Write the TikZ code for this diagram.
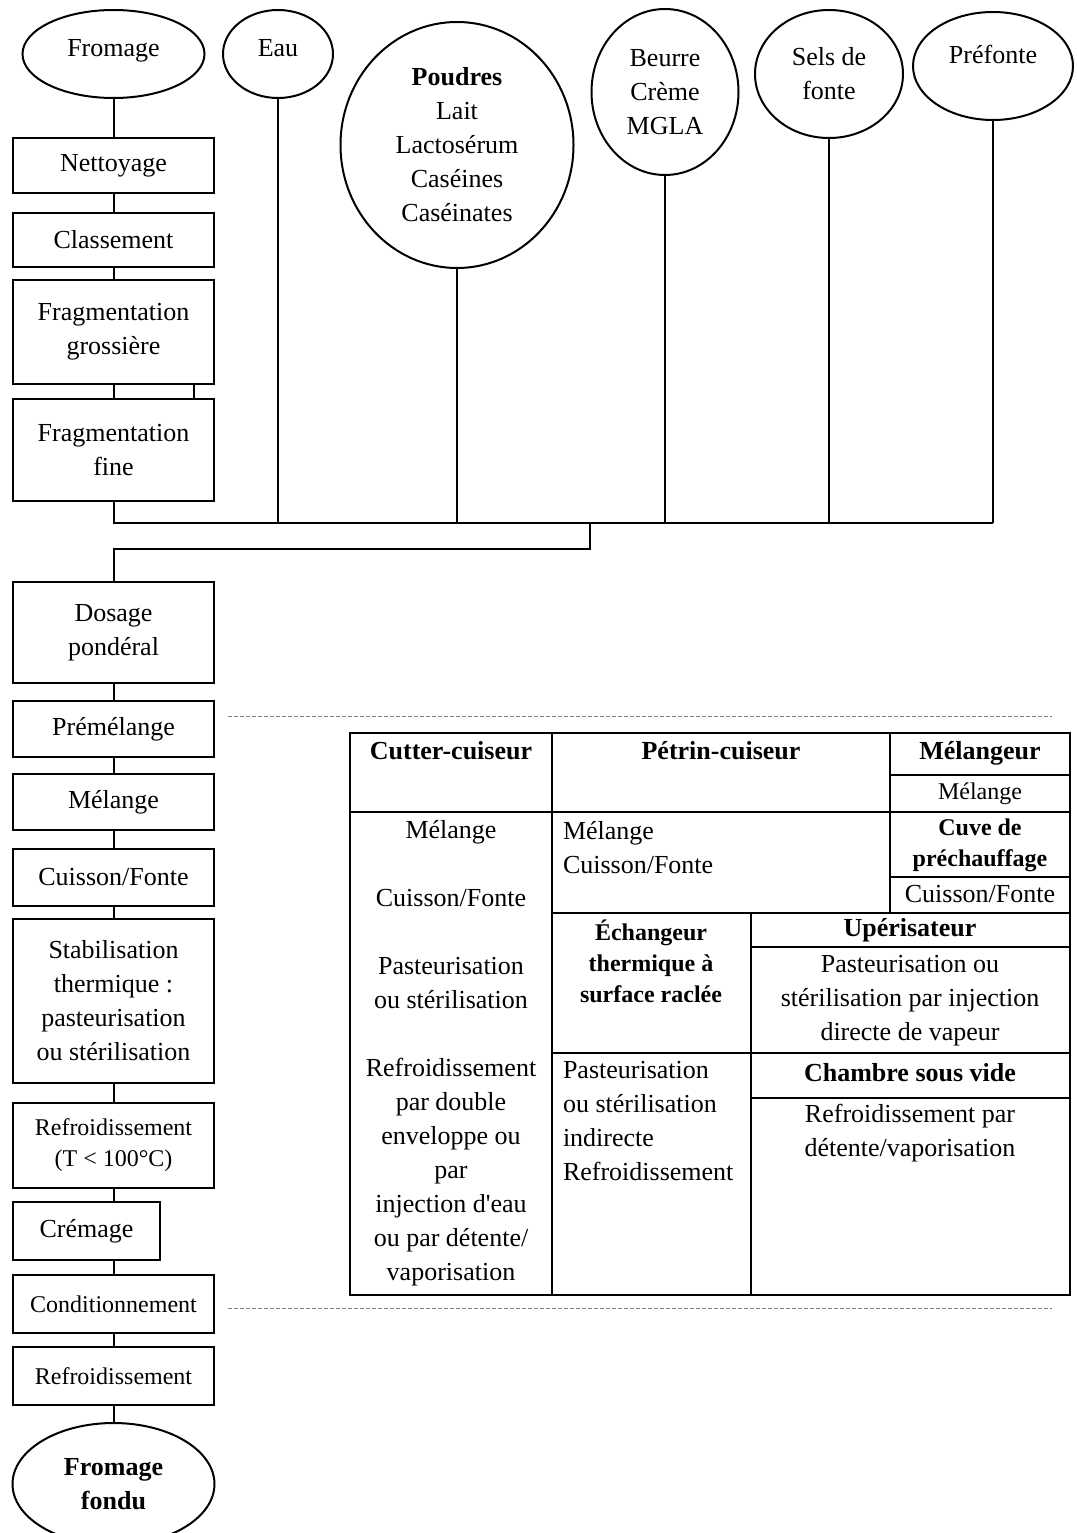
\documentclass[tikz,border=0pt]{standalone}
\usepackage{fontspec}
\setmainfont{Liberation Serif}[Ligatures=TeXOff]
\usetikzlibrary{shapes.geometric}
\begin{document}
\begin{tikzpicture}[x=1pt, y=-1pt, font=\fontsize{26}{34}\selectfont, line width=2pt]
    \tikzstyle{etape}=[draw, rectangle, align=center, minimum width=201pt, inner sep=2pt]
    \tikzstyle{entree}=[draw, ellipse, align=center, inner sep=0pt]
    \tikzstyle{petit}=[font=\fontsize{24}{31}\selectfont]
    \tikzstyle{petitgras}=[font=\fontsize{24}{31}\selectfont\bfseries]
    \tikzstyle{cellule}=[align=center, inner sep=0pt]
    \tikzstyle{pointille}=[gray, line width=0.9pt, dash pattern=on 4pt off 2pt]

    \useasboundingbox (0,0) rectangle (1076,1533);

    % ingredients
    \node[entree, text depth=12pt, minimum width=182, minimum height=88] (e_fromage) at (113.5,54) {Fromage};
    \node[entree, text depth=12pt, minimum width=110, minimum height=88] (e_eau) at (278,54) {Eau};
    \node[entree, minimum width=233, minimum height=246] (e_poudres) at (457,145)
        {\textbf{Poudres}\\Lait\\Lactosérum\\Caséines\\Caséinates};
    \node[entree, minimum width=147, minimum height=166] (e_beurre) at (665,92) {Beurre\\Crème\\MGLA};
    \node[entree, minimum width=148, minimum height=128] (e_sels) at (829,74) {Sels de\\fonte};
    \node[entree, text depth=24pt, minimum width=160, minimum height=108] (e_prefonte) at (993,66) {Préfonte};

    % etapes
    \node[etape, minimum height=55] (b_nettoyage) at (113.5,165.5) {Nettoyage};
    \node[etape, minimum height=54] (b_classement) at (113.5,240) {Classement};
    \node[etape, minimum height=104] (b_frag_gros) at (113.5,332) {Fragmentation\\grossière};
    \node[etape, minimum height=102] (b_frag_fine) at (113.5,450) {Fragmentation\\fine};
    \node[etape, minimum height=101] (b_dosage) at (113.5,632.5) {Dosage\\pondéral};
    \node[etape, minimum height=56] (b_premelange) at (113.5,729) {Prémélange};
    \node[etape, minimum height=56] (b_melange) at (113.5,802) {Mélange};
    \node[etape, minimum height=57] (b_cuisson) at (113.5,877.5) {Cuisson/Fonte};
    \node[etape, minimum height=164] (b_stab) at (113.5,1001)
        {Stabilisation\\thermique :\\pasteurisation\\ou stérilisation};
    \node[etape, petit, minimum height=85] (b_refr1) at (113.5,1145.5) {Refroidissement\\(T < 100°C)};
    \node[etape, minimum width=147, minimum height=58] (b_cremage) at (86.5,1231) {Crémage};
    \node[etape, petit, minimum height=58] (b_cond) at (113.5,1304) {Conditionnement};
    \node[etape, petit, minimum height=58] (b_refr2) at (113.5,1376) {Refroidissement};
    \node[entree, minimum width=202, minimum height=122] (e_fondu) at (113.5,1484)
        {\textbf{Fromage}\\\textbf{fondu}};

    % liaisons
    \foreach \a/\b in {e_fromage/b_nettoyage, b_nettoyage/b_classement, b_classement/b_frag_gros,
                       b_frag_gros/b_frag_fine, b_dosage/b_premelange, b_premelange/b_melange,
                       b_melange/b_cuisson, b_cuisson/b_stab, b_stab/b_refr1,
                       b_cond/b_refr2, b_refr2/e_fondu}
        \draw (\a.south) -- (\b.north);
    \draw ([xshift=80pt]b_frag_gros.south) -- ([xshift=80pt]b_frag_fine.north);
    \draw (b_refr1.south) -- (b_refr1.south |- b_cremage.north);
    \draw (b_cond.north |- b_cremage.south) -- (b_cond.north);

    \coordinate (c_bus) at (590,523);
    \coordinate (c_coude) at (590,549);
    \draw (b_frag_fine.south) |- (e_prefonte.south |- c_bus);
    \foreach \n in {e_eau, e_poudres, e_beurre, e_sels, e_prefonte}
        \draw (\n.south) -- (\n.south |- c_bus);
    \draw (c_bus) -- (c_coude) -| (b_dosage.north);

    % limites de la zone
    \draw[pointille] (228,716) -- (1052,716);
    \draw[pointille] (228,1308) -- (1052,1308);

    % tableau des appareils
    \draw (350,733) rectangle (1070,1295);
    \draw (552,733) -- (552,1295);
    \draw (890,733) -- (890,913);
    \draw (751,913) -- (751,1295);
    \draw (350,812) -- (1070,812);
    \draw (890,775) -- (1070,775);
    \draw (890,877) -- (1070,877);
    \draw (552,913) -- (1070,913);
    \draw (751,947) -- (1070,947);
    \draw (552,1053) -- (1070,1053);
    \draw (751,1098) -- (1070,1098);

    \node[cellule] (t_cutter) at (451,751) {\textbf{Cutter-cuiseur}};
    \node[cellule] (t_cutter_txt) at (451,1053)
        {Mélange\\[34pt]Cuisson/Fonte\\[34pt]Pasteurisation\\ou stérilisation\\[34pt]Refroidissement\\par double\\enveloppe ou\\par\\injection d'eau\\ou par détente/\\vaporisation};
    \node[cellule] (t_petrin) at (721,751) {\textbf{Pétrin-cuiseur}};
    \node[cellule, anchor=west, align=left] (t_petrin_txt) at (562,848) {Mélange\\Cuisson/Fonte};
    \node[cellule] (t_melangeur) at (980,753) {\textbf{Mélangeur}};
    \node[cellule, petit] (t_melangeur_txt) at (980,794) {Mélange};
    \node[cellule, petitgras] (t_cuve) at (980,845) {Cuve de\\préchauffage};
    \node[cellule] (t_cuve_txt) at (980,894) {Cuisson/Fonte};
    \node[cellule, petitgras] (t_echangeur) at (651,961) {Échangeur\\thermique à\\surface raclée};
    \node[cellule, anchor=west, align=left] (t_echangeur_txt) at (562,1121.5)
        {Pasteurisation\\ou stérilisation\\indirecte\\Refroidissement};
    \node[cellule] (t_uperisateur) at (910,930) {\textbf{Upérisateur}};
    \node[cellule] (t_uperisateur_txt) at (910,1001)
        {Pasteurisation ou\\stérilisation par injection\\directe de vapeur};
    \node[cellule] (t_chambre) at (910,1073) {\textbf{Chambre sous vide}};
    \node[cellule] (t_chambre_txt) at (910,1133) {Refroidissement par\\détente/vaporisation};

\end{tikzpicture}
\end{document}
